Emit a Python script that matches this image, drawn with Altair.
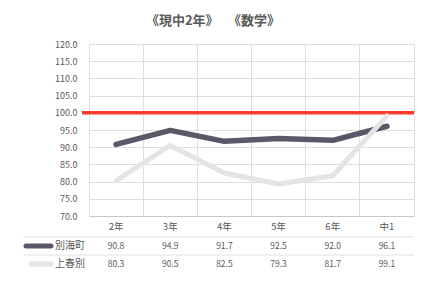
import altair as alt
import pandas as pd

categories = ["2年", "3年", "4年", "5年", "6年", "中1"]
series_names = ["別海町", "上春別"]
betsukai = [90.8, 94.9, 91.7, 92.5, 92.0, 96.1]
kamishunbetsu = [80.3, 90.5, 82.5, 79.3, 81.7, 99.1]
y_ticks = [70, 75, 80, 85, 90, 95, 100, 105, 110, 115, 120]
target = 100
title_text = "《現中2年》　 《数学》"

rows = []
for name, vals in zip(series_names, [betsukai, kamishunbetsu]):
    for c, v in zip(categories, vals):
        rows.append({"cat": c, "series": name, "value": v, "label": f"{v:.1f}"})
df = pd.DataFrame(rows)
cat_df = pd.DataFrame({"cat": categories})

W, H = 325, 172
FONT = "Noto Sans CJK JP"
TXT = "#595959"
GRID = "#dedede"

xs = alt.Scale(type="band", domain=categories, paddingInner=0, paddingOuter=0)
ys = alt.Scale(domain=[70, 120], nice=False, zero=False)

base = alt.Chart(df)

x_axis = alt.Axis(labels=False, ticks=False, title=None, grid=True, bandPosition=0,
                  gridColor=GRID, domainColor="#c8c8c8")
y_axis = alt.Axis(values=y_ticks, format=".1f", title=None, ticks=False, domain=False,
                  gridColor=GRID, labelColor=TXT, labelFont=FONT, labelFontSize=9,
                  labelPadding=12, labelOverlap=False, labelFlush=False)

x_enc = alt.X("cat:N", scale=xs, sort=categories, bandPosition=0.5, axis=x_axis)
y_enc = alt.Y("value:Q", scale=ys, axis=y_axis)

light = base.transform_filter(alt.datum.series == series_names[1]).mark_line(
    color="#e4e4e4", strokeWidth=5, strokeCap="round", strokeJoin="round").encode(x=x_enc, y=y_enc)
dark = base.transform_filter(alt.datum.series == series_names[0]).mark_line(
    color="#5a5868", strokeWidth=5.5, strokeCap="round", strokeJoin="round").encode(x=x_enc, y=y_enc)

red = alt.Chart(pd.DataFrame({"v": [target]})).mark_rule(color="#ff3b30", strokeWidth=3.5).encode(
    y=alt.Y("v:Q", scale=ys, axis=y_axis), x=alt.value(-7), x2=alt.value(W))

header = alt.Chart(cat_df).mark_text(font=FONT, fontSize=9.5, color=TXT).encode(
    x=alt.X("cat:N", scale=xs, sort=categories, bandPosition=0.5, axis=x_axis), y=alt.value(183), text="cat:N")

row_y = [202, 220]
row_layers = []
for name, yy in zip(series_names, row_y):
    row_layers.append(
        base.transform_filter(alt.datum.series == name).mark_text(font=FONT, fontSize=8.5, color=TXT).encode(
            x=alt.X("cat:N", scale=xs, sort=categories, bandPosition=0.5, axis=x_axis), y=alt.value(yy), text="label:N"))

names_df = pd.DataFrame({"series": series_names, "yy": row_y})
row_names = alt.Chart(names_df).mark_text(font=FONT, fontSize=10, color=TXT, align="right").encode(
    x=alt.value(-4), y=alt.Y("yy:Q", scale=None, axis=None), text="series:N")

leg_dark = alt.Chart(pd.DataFrame({"a": [0]})).mark_rule(color="#5a5868", strokeWidth=5, strokeCap="round").encode(
    x=alt.value(-63), x2=alt.value(-38), y=alt.value(row_y[0]))
leg_light = alt.Chart(pd.DataFrame({"a": [0]})).mark_rule(color="#e4e4e4", strokeWidth=5, strokeCap="round").encode(
    x=alt.value(-58), x2=alt.value(-38), y=alt.value(row_y[1]))

hlines = alt.Chart(pd.DataFrame({"yy": [193, 211, 230]})).mark_rule(color="#e2e2e2", strokeWidth=1).encode(
    x=alt.value(-66), x2=alt.value(W), y=alt.Y("yy:Q", scale=None, axis=None))

title = alt.Chart(pd.DataFrame({"t": [title_text]})).mark_text(
    font=FONT, fontSize=13, fontWeight="bold", color=TXT).encode(
    x=alt.value(213 - 89), y=alt.value(-23), text="t:N")

chart = alt.layer(
    hlines, red, dark, light, header, *row_layers, row_names, leg_dark, leg_light, title
).properties(
    width=W, height=H,
    autosize=alt.AutoSizeParams(type="none"),
    padding={"left": 81, "top": 36, "right": 6, "bottom": 57},
).configure_view(stroke="#dedede").configure(background="white")

chart.save("out.html", embed_options={"renderer": "svg", "actions": False})
